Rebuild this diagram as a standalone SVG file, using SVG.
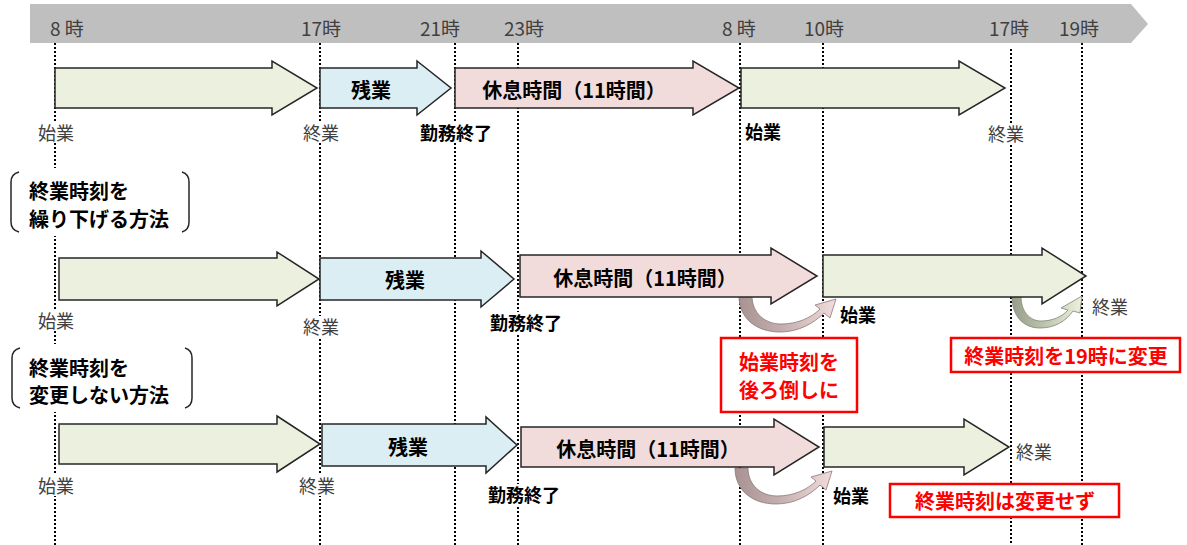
<svg xmlns="http://www.w3.org/2000/svg" width="1187" height="545" viewBox="0 0 1187 545">
<defs>
<linearGradient id="gPink" x1="0" y1="0" x2="1" y2="0">
<stop offset="0" stop-color="#a89292"/>
<stop offset="0.45" stop-color="#c4aeae"/>
<stop offset="1" stop-color="#f2dcdb"/>
</linearGradient>
<linearGradient id="gGreen" x1="0" y1="0" x2="1" y2="0">
<stop offset="0" stop-color="#979d89"/>
<stop offset="0.45" stop-color="#bcc3ad"/>
<stop offset="1" stop-color="#ebf1de"/>
</linearGradient>
</defs>
<style>
text{font-family:"Noto Sans CJK JP","Noto Sans",sans-serif;dominant-baseline:central}
.tm{font-size:19px;fill:#404040}
.lr{font-size:18px;fill:#404040;text-anchor:middle}
.lb{font-size:18px;font-weight:bold;fill:#000;text-anchor:middle}
.at{font-size:20px;font-weight:bold;fill:#000;text-anchor:middle}
.bt{font-size:20px;font-weight:bold;fill:#000}
.rt{font-size:20px;font-weight:bold;fill:#ff0000;text-anchor:middle}
.bg{fill:#fff}
.guide{stroke:#000;stroke-width:2;stroke-dasharray:2 2;fill:none}
.g{fill:#ebf1de;stroke:#262626;stroke-width:1.5}
.b{fill:#dbeef4;stroke:#262626;stroke-width:1.5}
.p{fill:#f2dcdb;stroke:#262626;stroke-width:1.5}
.cp{fill:url(#gPink);stroke:#8a7a7a;stroke-width:0.8}
.cg{fill:url(#gGreen);stroke:#7f8672;stroke-width:0.8}
.rb{fill:#fff;stroke:#ff0000;stroke-width:2.5}
.br{fill:none;stroke:#262626;stroke-width:1.5}
</style>
<rect width="1187" height="545" fill="#fff"/>
<g id="timeline">
<path d="M30,4 H1131 L1148,24 L1131,43 H30 Z" fill="#bfbfbf"/>
<text class="tm" x="50" y="27">8 時</text>
<text class="tm" x="301" y="27">17時</text>
<text class="tm" x="420" y="27">21時</text>
<text class="tm" x="504" y="27">23時</text>
<text class="tm" x="722" y="27">8 時</text>
<text class="tm" x="804" y="27">10時</text>
<text class="tm" x="989" y="27">17時</text>
<text class="tm" x="1059" y="27">19時</text>
</g>
<g id="connectors">
<line class="guide" x1="55" y1="43" x2="55" y2="545"/>
<line class="guide" x1="320" y1="43" x2="320" y2="545"/>
<line class="guide" x1="455" y1="43" x2="455" y2="545"/>
<line class="guide" x1="518" y1="43" x2="518" y2="545"/>
<line class="guide" x1="740" y1="43" x2="740" y2="545"/>
<line class="guide" x1="823" y1="43" x2="823" y2="545"/>
<line class="guide" x1="1011" y1="49" x2="1011" y2="545"/>
<line class="guide" x1="1082" y1="43" x2="1082" y2="545"/>
</g>
<g id="method1-label">
<rect class="bg" x="8" y="168" width="186" height="68"/>
<path class="br" d="M19,172 Q11,174 11,182 V222 Q11,230 19,232"/>
<path class="br" d="M182,172 Q189,174 189,182 V222 Q189,230 182,232"/>
<text class="bt" x="29" y="190">終業時刻を</text>
<text class="bt" x="29" y="218">繰り下げる方法</text>
</g>
<g id="method2-label">
<rect class="bg" x="8" y="344" width="190" height="68"/>
<path class="br" d="M20,348 Q12,350 12,358 V398 Q12,406 20,408"/>
<path class="br" d="M185,348 Q192,350 192,358 V398 Q192,406 185,408"/>
<text class="bt" x="29" y="367">終業時刻を</text>
<text class="bt" x="29" y="394">変更しない方法</text>
</g>
<g id="curve1"><path class="cp" d="M739,296 C739,319 757,332 780,332 C799,332 814,323 824,313 L830,318 L836,299 L815,305 L820,309 C811,318 797,324 781,324 C765,324 752,313 752,296 Z"/></g>
<g id="curve2"><path class="cg" d="M1012,296 C1012,317 1024,328 1040,328 C1055,328 1066,321 1073,311 L1080,313 L1082,296 L1061,308 L1068,310 C1062,317 1052,321 1041,321 C1030,321 1021,312 1021,296 Z"/></g>
<g id="curve3" transform="translate(-4,172)"><path class="cp" d="M739,296 C739,319 757,332 780,332 C799,332 814,323 824,313 L830,318 L836,299 L815,305 L820,309 C811,318 797,324 781,324 C765,324 752,313 752,296 Z"/></g>
<g id="row1">
<g id="r1-work"><path class="g" d="M55,68 H272 V61 L317,88 L272,115 V108 H55 Z"/></g>
<g id="r1-over"><path class="b" d="M320,68 H417 V61 L451,88 L417,115 V108 H320 Z"/><text class="at" x="371" y="89">残業</text></g>
<g id="r1-rest"><path class="p" d="M455,68 H693 V61 L739,88 L693,115 V108 H455 Z"/><text class="at" x="574" y="89">休息時間（11時間）</text></g>
<g id="r1-work2"><path class="g" d="M741,68 H959 V61 L1005,88 L959,115 V108 H741 Z"/></g>
<g id="r1-l1"><rect class="bg" x="36" y="122" width="40" height="21"/><text class="lr" x="56" y="132">始業</text></g>
<g id="r1-l2"><rect class="bg" x="302" y="122" width="40" height="21"/><text class="lr" x="321" y="132">終業</text></g>
<g id="r1-l3"><rect class="bg" x="420" y="122" width="72" height="21"/><text class="lb" x="456" y="132">勤務終了</text></g>
<g id="r1-l4"><text class="lb" x="763" y="131">始業</text></g>
<g id="r1-l5"><rect class="bg" x="986" y="123" width="41" height="21"/><text class="lr" x="1006" y="133">終業</text></g>
</g>
<g id="row2">
<g id="r2-work"><path class="g" d="M59,258 H277 V252 L319,279 L277,306 V300 H59 Z"/></g>
<g id="r2-over"><path class="b" d="M320,258 H481 V251 L514,279 L481,307 V300 H320 Z"/><text class="at" x="405" y="279">残業</text></g>
<g id="r2-rest"><path class="p" d="M520,255 H771 V248 L817,276 L771,304 V297 H520 Z"/><text class="at" x="645" y="277">休息時間（11時間）</text></g>
<g id="r2-work2"><path class="g" d="M823,255 H1042 V248 L1086,276 L1042,304 V297 H823 Z"/></g>
<g id="r2-l1"><rect class="bg" x="36" y="310" width="40" height="21"/><text class="lr" x="56" y="320">始業</text></g>
<g id="r2-l2"><rect class="bg" x="302" y="316" width="40" height="21"/><text class="lr" x="321" y="326">終業</text></g>
<g id="r2-l3"><rect class="bg" x="489" y="312" width="74" height="21"/><text class="lb" x="526" y="322">勤務終了</text></g>
<g id="r2-l4"><text class="lb" x="858" y="314">始業</text></g>
<g id="r2-l5"><text class="lr" x="1110" y="306">終業</text></g>
</g>
<g id="row3">
<g id="r3-work"><path class="g" d="M59,424 H277 V416 L320,444 L277,472 V464 H59 Z"/></g>
<g id="r3-over"><path class="b" d="M322,424 H486 V417 L517,445 L486,473 V466 H322 Z"/><text class="at" x="408" y="446">残業</text></g>
<g id="r3-rest"><path class="p" d="M521,427 H774 V419 L819,447 L774,475 V467 H521 Z"/><text class="at" x="648" y="448">休息時間（11時間）</text></g>
<g id="r3-work2"><path class="g" d="M824,427 H964 V419 L1009,447 L964,475 V467 H824 Z"/></g>
<g id="r3-l1"><rect class="bg" x="36" y="475" width="40" height="21"/><text class="lr" x="56" y="485">始業</text></g>
<g id="r3-l2"><rect class="bg" x="297" y="475" width="40" height="21"/><text class="lr" x="317" y="485">終業</text></g>
<g id="r3-l3"><rect class="bg" x="487" y="484" width="74" height="21"/><text class="lb" x="524" y="494">勤務終了</text></g>
<g id="r3-l4"><text class="lb" x="851" y="495">始業</text></g>
<g id="r3-l5"><text class="lr" x="1034" y="451">終業</text></g>
</g>
<g id="note1"><rect class="rb" x="721" y="338" width="136" height="74"/><text class="rt" x="789" y="361">始業時刻を</text><text class="rt" x="789" y="389">後ろ倒しに</text></g>
<g id="note2"><rect class="rb" x="951" y="338" width="229" height="34"/><text class="rt" x="1066" y="355">終業時刻を19時に変更</text></g>
<g id="note3"><rect class="rb" x="890" y="484" width="229" height="33"/><text class="rt" x="1005" y="500">終業時刻は変更せず</text></g>
</svg>
